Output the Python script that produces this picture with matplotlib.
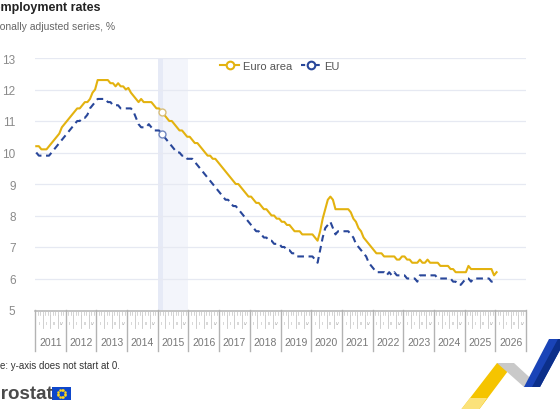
import numpy as np
import matplotlib
matplotlib.use("Agg")
import matplotlib.pyplot as plt
from matplotlib.patches import Polygon, Rectangle
from matplotlib.lines import Line2D

plt.rcParams['font.family'] = ['Liberation Sans', 'DejaVu Sans']

# ---------------- data (monthly, Jan 2011 - Jan 2026) ----------------
start_year = 2011
euro_area = [
    10.2, 10.2, 10.1, 10.1, 10.1, 10.2, 10.3, 10.4, 10.5, 10.6, 10.8, 10.9,   # 2011
    11.0, 11.1, 11.2, 11.3, 11.4, 11.4, 11.5, 11.6, 11.6, 11.7, 11.9, 12.0,   # 2012
    12.3, 12.3, 12.3, 12.3, 12.3, 12.2, 12.2, 12.1, 12.2, 12.1, 12.1, 12.0,   # 2013
    12.05, 11.9, 11.8, 11.7, 11.6, 11.7, 11.6, 11.6, 11.6, 11.6, 11.5, 11.4,  # 2014
    11.4, 11.3, 11.2, 11.1, 11.0, 11.0, 10.9, 10.8, 10.7, 10.7, 10.6, 10.5,   # 2015
    10.5, 10.4, 10.3, 10.3, 10.2, 10.1, 10.0, 9.9, 9.9, 9.8, 9.8, 9.7,        # 2016
    9.6, 9.5, 9.4, 9.3, 9.2, 9.1, 9.0, 9.0, 8.9, 8.8, 8.7, 8.6,               # 2017
    8.6, 8.5, 8.4, 8.4, 8.3, 8.2, 8.2, 8.1, 8.0, 8.0, 7.9, 7.9,               # 2018
    7.8, 7.8, 7.7, 7.7, 7.6, 7.5, 7.5, 7.5, 7.4, 7.4, 7.4, 7.4,               # 2019
    7.4, 7.3, 7.2, 7.5, 7.9, 8.2, 8.5, 8.6, 8.5, 8.2, 8.2, 8.2,               # 2020
    8.2, 8.2, 8.2, 8.1, 7.9, 7.8, 7.6, 7.5, 7.3, 7.2, 7.1, 7.0,               # 2021
    6.9, 6.8, 6.8, 6.8, 6.7, 6.7, 6.7, 6.7, 6.7, 6.6, 6.6, 6.7,               # 2022
    6.7, 6.6, 6.6, 6.5, 6.5, 6.5, 6.6, 6.5, 6.5, 6.6, 6.5, 6.5,               # 2023
    6.5, 6.5, 6.4, 6.4, 6.4, 6.4, 6.3, 6.3, 6.2, 6.2, 6.2, 6.2,               # 2024
    6.2, 6.4, 6.3, 6.3, 6.3, 6.3, 6.3, 6.3, 6.3, 6.3, 6.3, 6.1,               # 2025
    6.2,                                                                       # 2026
]
eu = [
    10.0, 9.9, 9.9, 9.9, 9.9, 9.9, 10.0, 10.1, 10.2, 10.3, 10.4, 10.5,        # 2011
    10.6, 10.7, 10.8, 10.9, 11.0, 11.0, 11.1, 11.1, 11.2, 11.4, 11.5, 11.6,   # 2012
    11.7, 11.7, 11.7, 11.7, 11.6, 11.6, 11.5, 11.5, 11.5, 11.4, 11.4, 11.4,   # 2013
    11.4, 11.4, 11.3, 11.1, 10.9, 10.8, 10.8, 10.8, 10.9, 10.8, 10.7, 10.7,   # 2014
    10.7, 10.6, 10.5, 10.4, 10.3, 10.2, 10.1, 10.0, 10.0, 9.9, 9.9, 9.8,      # 2015
    9.8, 9.8, 9.7, 9.6, 9.5, 9.4, 9.3, 9.2, 9.1, 9.0, 8.9, 8.8,               # 2016
    8.7, 8.6, 8.5, 8.5, 8.4, 8.3, 8.3, 8.2, 8.1, 8.0, 7.9, 7.8,               # 2017
    7.7, 7.6, 7.5, 7.5, 7.4, 7.3, 7.3, 7.2, 7.2, 7.1, 7.1, 7.1,               # 2018
    7.0, 7.0, 6.9, 6.9, 6.8, 6.8, 6.7, 6.7, 6.7, 6.7, 6.7, 6.7,               # 2019
    6.7, 6.6, 6.5, 6.9, 7.3, 7.6, 7.7, 7.8, 7.6, 7.4, 7.5, 7.5,               # 2020
    7.5, 7.5, 7.5, 7.4, 7.3, 7.1, 7.0, 6.9, 6.8, 6.7, 6.5, 6.4,               # 2021
    6.3, 6.2, 6.2, 6.2, 6.2, 6.1, 6.2, 6.1, 6.2, 6.1, 6.1, 6.1,               # 2022
    6.1, 6.0, 6.0, 6.0, 6.0, 5.9, 6.1, 6.1, 6.1, 6.1, 6.1, 6.1,               # 2023
    6.1, 6.0, 6.0, 6.0, 6.0, 6.0, 6.0, 5.9, 5.9, 5.8, 5.8, 5.9,               # 2024
    6.0, 6.0, 5.9, 6.0, 6.0, 6.0, 6.0, 6.0, 6.0, 6.0, 5.9, 5.9,               # 2025
    5.9,                                                                       # 2026
]
series_names = ["Euro area", "EU"]
years = list(range(2011, 2027))
quarter_labels = ["I", "II", "III", "IV"]
y_ticks = [5, 6, 7, 8, 9, 10, 11, 12, 13]
highlight_index = 49  # Feb 2015 (hovered point)

# ---------------- figure ----------------
W, H = 560, 410
fig = plt.figure(figsize=(W / 100, H / 100), dpi=100)

def fx(px):
    return px / W

def fy(py):
    return 1 - py / H

L, R, T, B = 35, 526, 59, 311
ax = fig.add_axes([fx(L), fy(B), fx(R - L), fy(T) - fy(B)])

x = start_year + (np.arange(len(euro_area)) + 0.5) / 12.0
yellow = "#e3b20f"
blue = "#29479a"

# highlight band
ax.axvspan(2015, 2016, color="#f3f5fb", zorder=0, lw=0)
ax.axvspan(2015, 2015 + 2 / 12, color="#e6eaf6", zorder=0, lw=0)

for v in y_ticks[1:]:
    ax.axhline(v, color="#e6e9f2", lw=0.9, zorder=1)

ax.plot(x, euro_area, color=yellow, lw=1.5, zorder=3)
ax.plot(x, eu, color=blue, lw=1.5, ls=(0, (3.2, 2.2)), zorder=3)
ax.plot(x[highlight_index], euro_area[highlight_index], marker="o", ms=5,
        mfc="white", mec="#d8be7a", mew=1.0, zorder=4)
ax.plot(x[highlight_index], eu[highlight_index], marker="o", ms=5,
        mfc="white", mec="#7288c0", mew=1.0, zorder=4)

ax.set_xlim(2011, 2027)
ax.set_ylim(5, 13)
ax.set_yticks(y_ticks)
ax.set_yticklabels([str(v) for v in y_ticks])
ax.tick_params(axis="y", length=0, pad=14, labelsize=8.5, labelcolor="#8a8a8a")
ax.tick_params(axis="x", bottom=False, labelbottom=False)
for s in ax.spines.values():
    s.set_visible(False)

# legend
handles = [
    Line2D([], [], color=yellow, lw=1.5, marker="o", ms=5.5, mfc="white", mec=yellow, mew=1.5),
    Line2D([], [], color=blue, lw=1.5, ls=(0, (2, 1.5)), marker="o", ms=5.5, mfc="white", mec=blue, mew=1.5),
]
fig.legend(handles, series_names, loc="center", bbox_to_anchor=(fx(280), fy(67)),
           ncol=2, frameon=False, fontsize=8, handlelength=1.7, handletextpad=0.35,
           columnspacing=0.8, labelcolor="#555555")

# ---------------- ruler (time axis) ----------------
RB = 352
rx = fig.add_axes([fx(L), fy(RB), fx(R - L), fy(B) - fy(RB)])
rx.set_xlim(2011, 2027)
rx.set_ylim(RB - B, 0)
rx.axis("off")
gc = "#b3b3b3"
rx.plot([2011, 2027], [0.5, 0.5], color=gc, lw=1.1, clip_on=False)
for k in range(16 * 12 + 1):
    xm = 2011 + k / 12
    rx.plot([xm, xm], [0, 5], color="#c4c4c4", lw=0.5, clip_on=False)
for yr in range(2011, 2027):
    for q in range(1, 4):
        rx.plot([yr + q / 4, yr + q / 4], [5, 18], color="#c8c8c8", lw=0.6, clip_on=False)
    for q, ql in enumerate(quarter_labels):
        rx.text(yr + (q + 0.5) / 4, 13.5, ql, fontsize=3, color="#9a9a9a",
                ha="center", va="center")
for yr in range(2011, 2028):
    rx.plot([yr, yr], [0, RB - B], color=gc, lw=1.0, clip_on=False)
for yr in years:
    rx.text(yr + 0.5, 32.5, str(yr), fontsize=7.5, color="#777777", ha="center", va="center")

# ---------------- texts ----------------
fig.text(fx(-23), fy(8), "Unemployment rates", fontsize=9, fontweight="bold",
         color="#222222", ha="left", va="center")
fig.text(fx(-24), fy(27), "Seasonally adjusted series, %", fontsize=7.5,
         color="#666666", ha="left", va="center")
fig.text(fx(-15), fy(366), "Note: y-axis does not start at 0.", fontsize=7,
         color="#333333", ha="left", va="center")
fig.text(fx(-21), fy(395), "eurostat", fontsize=13.5, fontweight="bold",
         color="#4b4b4b", ha="left", va="center")

# EU flag
flag = Rectangle((fx(52), fy(401)), fx(19), fy(388) - fy(401), transform=fig.transFigure,
                 facecolor="#0e47cb", edgecolor="none")
fig.patches.append(flag)
ang = np.linspace(0, 2 * np.pi, 12, endpoint=False)
cx, cy = 61.5, 394.5
for a in ang:
    fig.add_artist(Line2D([fx(cx + 3.8 * np.cos(a))], [fy(cy + 3.8 * np.sin(a))],
                          marker="o", ms=0.8, color="#ffd617", lw=0, transform=fig.transFigure))

# decorative ribbon (bottom right)
def poly(pts, color, z=1):
    p = Polygon([(fx(a), fy(b)) for a, b in pts], closed=True, transform=fig.transFigure,
                facecolor=color, edgecolor="none", zorder=z)
    fig.patches.append(p)

poly([(460, 412), (497, 364), (514, 364), (478, 412)], "#f5c400")
poly([(460, 412), (470, 399), (487, 399), (478, 412)], "#fbe27a", 2)
poly([(497, 364), (514, 364), (540, 388), (524, 388)], "#c9c9c9")
poly([(524, 388), (540, 388), (566, 340), (549, 340)], "#1a44b8")
poly([(532, 388), (540, 388), (566, 340), (558, 340)], "#0c2f8a", 2)

fig.savefig("out.png", dpi=100)
